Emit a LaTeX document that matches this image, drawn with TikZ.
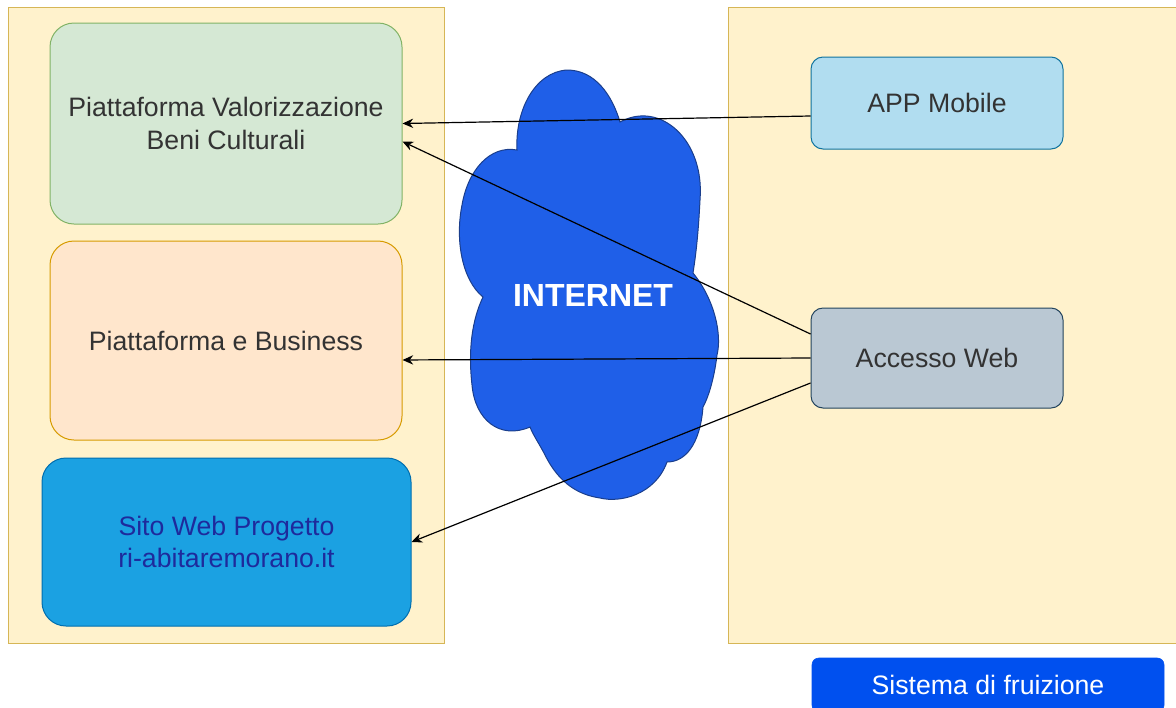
\documentclass[tikz,border=0pt]{standalone}
\usepackage{fontspec}
\setmainfont{Liberation Sans}
\usetikzlibrary{shapes.symbols,arrows.meta,calc}

\definecolor{contfill}{HTML}{FFF2CC}
\definecolor{contline}{HTML}{D6B656}
\definecolor{greenfill}{HTML}{D5E8D4}
\definecolor{greenline}{HTML}{82B366}
\definecolor{orangefill}{HTML}{FFE6CC}
\definecolor{orangeline}{HTML}{D79B00}
\definecolor{sitofill}{HTML}{1BA1E2}
\definecolor{sitoline}{HTML}{006EAF}
\definecolor{sitotext}{HTML}{1E2A9C}
\definecolor{appfill}{HTML}{B1DDF0}
\definecolor{appline}{HTML}{10739E}
\definecolor{webfill}{HTML}{BAC8D3}
\definecolor{webline}{HTML}{23445D}
\definecolor{cloudfill}{HTML}{1F5FE8}
\definecolor{cloudline}{HTML}{1A3E8C}
\definecolor{legendfill}{HTML}{0050EF}
\definecolor{boxtext}{HTML}{333333}

\begin{document}
\begin{tikzpicture}[x=0.75pt,y=-0.75pt,
  container/.style={draw=contline,fill=contfill,line width=0.75pt},
  platform/.style={draw,rounded corners=18pt,line width=0.75pt,align=center,
    text=boxtext,inner sep=0pt,font=\fontsize{20}{24.5}\selectfont},
  access/.style={platform,rounded corners=9pt},
  link/.style={draw=black,line width=0.9pt,-{Stealth[length=8pt,width=7pt]}}]
\useasboundingbox (0,0) rectangle (1176,707);

% containers
\draw[container] (8,7) rectangle (444,643);
\draw[container] (728,7) rectangle (1180,643);

% platforms
\node[platform,fill=greenfill,draw=greenline,minimum width=264pt,minimum height=150.75pt]
  (valorizzazione) at (226,123.5) {Piattaforma Valorizzazione\\Beni Culturali};
\node[platform,fill=orangefill,draw=orangeline,minimum width=264pt,minimum height=149.25pt]
  (business) at (226,340.5) {Piattaforma e Business};
\node[platform,fill=sitofill,draw=sitoline,text=sitotext,minimum width=276.75pt,minimum height=126pt]
  (sito) at (226.5,542) {Sito Web Progetto\\ri-abitaremorano.it};

% cloud
\draw[draw=cloudline,fill=cloudfill,line width=0.75pt]
  (620,122) .. controls (660,100) and (705,140) .. (700,200)
  .. controls (698,240) and (695,260) .. (693,273)
  .. controls (715,300) and (722,335) .. (717,355)
  .. controls (714,380) and (708,398) .. (703,407)
  .. controls (700,445) and (685,462) .. (667,462)
  .. controls (655,495) and (620,503) .. (600,498)
  .. controls (580,495) and (560,485) .. (545,455)
  .. controls (540,445) and (533,435) .. (530,427)
  .. controls (500,440) and (475,420) .. (472,385)
  .. controls (468,350) and (472,320) .. (483,297)
  .. controls (462,280) and (455,240) .. (462,205)
  .. controls (468,170) and (490,145) .. (517,150)
  .. controls (515,110) and (535,72) .. (567,70)
  .. controls (595,70) and (612,95) .. (620,122) -- cycle;
\node[text=white,font=\fontsize{24}{28}\selectfont\bfseries] (internet) at (593,295) {INTERNET};

% access
\node[access,fill=appfill,draw=appline,minimum width=189pt,minimum height=69pt]
  (app) at (937,103) {APP Mobile};
\node[access,fill=webfill,draw=webline,minimum width=189pt,minimum height=75pt]
  (web) at (937,358) {Accesso Web};

% legend
\node[draw=legendfill,fill=legendfill,rounded corners=5pt,text=white,minimum width=264pt,
  minimum height=40.5pt,font=\fontsize{20}{24}\selectfont] (fruizione) at (988,685) {};
\node[text=white,font=\fontsize{20}{24}\selectfont] (fruizionelabel) at (988,685) {Sistema di fruizione};

% links
\draw[link] ([yshift=-9.75pt]app.west) -- (valorizzazione.east);
\draw[link] ([yshift=18pt]web.west) -- ([yshift=-13.5pt]valorizzazione.east);
\draw[link] (web.west) -- ([yshift=-14.6pt]business.east);
\draw[link] ([yshift=-18.75pt]web.west) -- (sito.east);
\end{tikzpicture}
\end{document}
